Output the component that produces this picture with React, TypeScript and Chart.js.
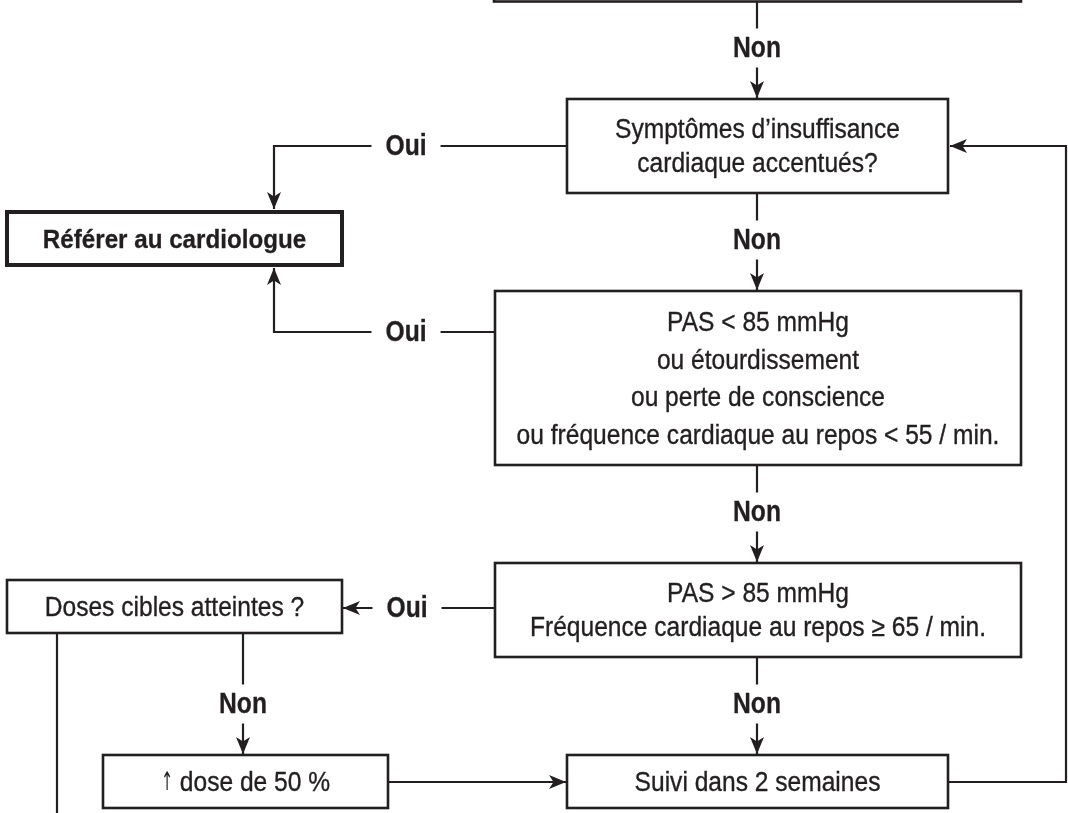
import React, { useEffect, useRef } from "react";
import { Chart, registerables } from "chart.js";

Chart.register(...registerables);

const INK = "#231f20";
const FONT = "'Liberation Sans', Arial, Helvetica, sans-serif";
const SYMBOL_FONT = "'DejaVu Sans', 'Liberation Sans', sans-serif";

// ---- Flowchart nodes (diagram coordinates, same units as the x / y scales) ----
const nodeLeft = [494, 567, 7, 495, 495, 7, 103, 567];
const nodeRight = [1021, 948, 342, 1021, 1021, 342, 388, 948];
const nodeTop = [-40, 99, 212, 291, 563, 580, 755, 755];
const nodeBottom = [1.5, 193, 265, 465, 657, 633, 808, 808];
const nodeText: string[][] = [
  [],
  ["Symptômes d’insuffisance", "cardiaque accentués?"],
  ["Référer au cardiologue"],
  [
    "PAS < 85 mmHg",
    "ou étourdissement",
    "ou perte de conscience",
    "ou fréquence cardiaque au repos < 55 / min.",
  ],
  ["PAS > 85 mmHg", "Fréquence cardiaque au repos ≥ 65 / min."],
  ["Doses cibles atteintes ?"],
  ["↑ dose de 50 %"],
  ["Suivi dans 2 semaines"],
];
const nodeLineGap = [0, 34, 0, 37.5, 34, 0, 0, 0];
const nodeStrong = [false, false, true, false, false, false, false, false];

// ---- Connectors ----
const linkPaths: number[][][] = [
  [[757, 1.5], [757, 98]],
  [[567, 146], [274, 146], [274, 209]],
  [[757, 193], [757, 290]],
  [[495, 332], [274, 332], [274, 268]],
  [[757, 465], [757, 562]],
  [[495, 608], [343, 608]],
  [[757, 657], [757, 754]],
  [[243, 633], [243, 754]],
  [[57, 633], [57, 813]],
  [[388, 782], [566, 782]],
  [[948, 782], [1066, 782], [1066, 146], [950, 146]],
];
const linkArrow = [true, true, true, true, true, true, true, true, false, true, true];
const linkLabel = ["Non", "Oui", "Non", "Oui", "Non", "Oui", "Non", "Non", "", "", ""];
const linkLabelX = [757, 406, 757, 406, 757, 407, 757, 243, 0, 0, 0];
const linkLabelY = [48, 146, 240, 332, 512, 608, 704, 704, 0, 0, 0];

function fontSpec(size: number, bold: boolean, family = FONT) {
  return `${bold ? "bold " : ""}${size}px ${family}`;
}

function drawText(
  ctx: CanvasRenderingContext2D,
  text: string,
  px: number,
  py: number,
  size: number,
  bold: boolean,
  sx: number
) {
  ctx.save();
  ctx.textBaseline = "middle";
  ctx.fillStyle = INK;
  ctx.strokeStyle = INK;
  ctx.lineWidth = bold ? 0.3 : 0.35;
  ctx.translate(px, py);
  ctx.scale(sx, 1);
  if (text.startsWith("↑")) {
    // arrow glyph from a font with a taller arrow
    const sym = "↑";
    const rest = text.slice(1);
    ctx.font = fontSpec(size * 0.95, false, SYMBOL_FONT);
    const ws = ctx.measureText(sym).width * 0.62;
    ctx.font = fontSpec(size, bold);
    const wr = ctx.measureText(rest).width;
    const start = -(ws + wr) / 2;
    ctx.textAlign = "left";
    ctx.save();
    ctx.translate(start, 0);
    ctx.scale(0.62, 1);
    ctx.font = fontSpec(size * 0.95, false, SYMBOL_FONT);
    ctx.fillText(sym, 0, 0);
    ctx.restore();
    ctx.font = fontSpec(size, bold);
    ctx.fillText(rest, start + ws, 0);
    ctx.strokeText(rest, start + ws, 0);
  } else {
    ctx.font = fontSpec(size, bold);
    ctx.textAlign = "center";
    ctx.fillText(text, 0, 0);
    ctx.strokeText(text, 0, 0);
  }
  ctx.restore();
}

function textWidth(ctx: CanvasRenderingContext2D, text: string, size: number, bold: boolean, sx: number) {
  ctx.save();
  ctx.font = fontSpec(size, bold);
  const w = ctx.measureText(text).width * sx;
  ctx.restore();
  return w;
}

const flowPlugin = {
  id: "flow",
  afterDatasetsDraw(chart: any) {
    const ctx: CanvasRenderingContext2D = chart.ctx;
    const xs = chart.scales.x;
    const ys = chart.scales.y;
    const X = (v: number) => xs.getPixelForValue(v);
    const Y = (v: number) => ys.getPixelForValue(v);

    // labels on connectors
    linkLabel.forEach((lab, i) => {
      if (!lab) return;
      const px = X(linkLabelX[i]);
      const py = Y(linkLabelY[i]);
      const w = textWidth(ctx, lab, 29, true, 0.85);
      ctx.fillStyle = "#ffffff";
      ctx.fillRect(px - w / 2 - 14, py - 19.5, w + 28, 39);
      drawText(ctx, lab, px, py + 1, 29, true, 0.85);
    });

    // boxes
    nodeLeft.forEach((l, i) => {
      const x0 = X(l);
      const x1 = X(nodeRight[i]);
      const y0 = Y(nodeTop[i]);
      const y1 = Y(nodeBottom[i]);
      ctx.save();
      ctx.fillStyle = "#ffffff";
      ctx.fillRect(x0, y0, x1 - x0, y1 - y0);
      ctx.lineWidth = nodeStrong[i] ? 4 : 2.6;
      ctx.strokeStyle = INK;
      ctx.lineJoin = "miter";
      ctx.strokeRect(x0, y0, x1 - x0, y1 - y0);
      ctx.restore();
      const lines = nodeText[i];
      const cx = (x0 + x1) / 2;
      const cy = (y0 + y1) / 2 + 2;
      lines.forEach((t, k) => {
        const ty = cy + (k - (lines.length - 1) / 2) * nodeLineGap[i];
        if (nodeStrong[i]) drawText(ctx, t, cx, ty, 26, true, 0.93);
        else drawText(ctx, t, cx, ty, 27, false, 0.91);
      });
    });

    // arrowheads
    linkPaths.forEach((pts, i) => {
      if (!linkArrow[i]) return;
      const a = pts[pts.length - 2];
      const b = pts[pts.length - 1];
      const ax = X(a[0]), ay = Y(a[1]);
      const bx = X(b[0]), by = Y(b[1]);
      const ang = Math.atan2(by - ay, bx - ax);
      ctx.save();
      ctx.translate(bx, by);
      ctx.rotate(ang);
      ctx.fillStyle = INK;
      ctx.beginPath();
      ctx.moveTo(0, 0);
      ctx.lineTo(-17, 7);
      ctx.lineTo(-12.5, 0);
      ctx.lineTo(-17, -7);
      ctx.closePath();
      ctx.fill();
      ctx.restore();
    });
  },
};

export default function App() {
  const ref = useRef<HTMLCanvasElement | null>(null);

  useEffect(() => {
    if (!ref.current) return;
    const chart = new Chart(ref.current, {
      type: "scatter",
      data: {
        datasets: linkPaths.map((pts) => ({
          type: "line" as const,
          data: pts.map(([x, y]) => ({ x, y })),
          borderColor: INK,
          backgroundColor: INK,
          borderWidth: 2.2,
          pointRadius: 0,
          pointHoverRadius: 0,
          showLine: true,
          fill: false,
          tension: 0,
          borderCapStyle: "butt" as const,
          borderJoinStyle: "miter" as const,
          clip: false as any,
        })),
      },
      options: {
        animation: false,
        responsive: false,
        devicePixelRatio: 1,
        events: [],
        layout: { padding: 0 },
        scales: {
          x: { type: "linear", min: 0, max: 1068, display: false },
          y: { type: "linear", min: 0, max: 813, reverse: true, display: false },
        },
        plugins: {
          legend: { display: false },
          tooltip: { enabled: false },
        },
      },
      plugins: [flowPlugin],
    });
    return () => chart.destroy();
  }, []);

  return (
    <div
      style={{
        position: "fixed",
        left: 0,
        top: 0,
        width: 1068,
        height: 813,
        background: "#ffffff",
      }}
    >
      <canvas ref={ref} width={1068} height={813} style={{ display: "block" }} />
    </div>
  );
}
